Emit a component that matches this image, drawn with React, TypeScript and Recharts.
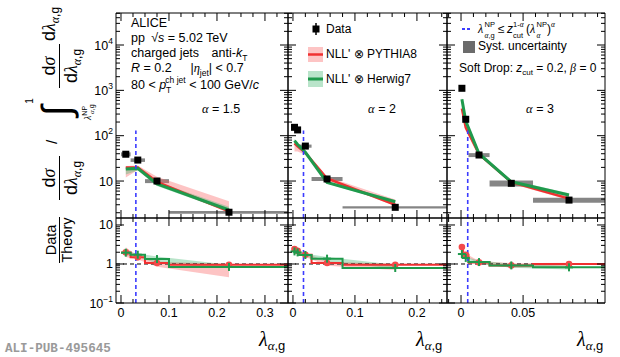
import React from 'react';
import { ComposedChart, XAxis, YAxis, Line, Area, Scatter, ReferenceArea, ReferenceLine } from 'recharts';

// alpha = 1.5
const aBinLo = [0, 0.02, 0.05, 0.1];
const aBinHi = [0.02, 0.05, 0.1, 0.35];
const aX = [0.01, 0.035, 0.075, 0.225];
const aData = [39, 29, 10, 2.05];
const aSys = [0.1, 0.09, 0.1, 0.07];
const aPyth = [20, 20, 9.6, 2.15];
const aPythLo = [12, 17.5, 8.6, 2.0];
const aPythHi = [21.5, 22, 12.5, 3.6];
const aHerw = [18.5, 19, 8.6, 2.3];
const aHerwLo = [14, 17, 7.8, 2.1];
const aHerwHi = [20, 20.5, 9.6, 2.7];
const aRatioPyth = [1.98, 1.48, 1.06, 0.96];
const aRatioPythLo = [1.5, 1.3, 0.85, 0.46];
const aRatioPythHi = [2.7, 1.6, 1.15, 1.0];
const aRatioHerw = [1.95, 1.73, 1.34, 0.84];
const aRatioHerwLo = [1.7, 1.5, 1.05, 0.78];
const aRatioHerwHi = [2.1, 1.85, 1.55, 0.95];
const aNP = 0.031;

// alpha = 2
const bBinLo = [0, 0.005, 0.01, 0.03, 0.08];
const bBinHi = [0.005, 0.01, 0.03, 0.08, 0.25];
const bX = [0.0025, 0.0075, 0.02, 0.055, 0.165];
const bData = [153, 134, 59, 11.1, 2.63];
const bSys = [0.08, 0.08, 0.08, 0.1, 0.06];
const bPyth = [68, 58, 42, 11.4, 3.0];
const bPythLo = [45, 45, 38, 10.5, 2.8];
const bPythHi = [75, 64, 46, 12.5, 3.9];
const bHerw = [78, 64, 43, 9.3, 3.5];
const bHerwLo = [70, 58, 40, 8.8, 3.2];
const bHerwHi = [84, 70, 46, 10, 3.8];
const bRatioPyth = [2.42, 2.19, 1.73, 1.06, 0.96];
const bRatioPythLo = [2.1, 1.9, 1.5, 0.9, 0.7];
const bRatioPythHi = [2.6, 2.3, 1.9, 1.15, 1.0];
const bRatioHerw = [2.1, 1.98, 1.7, 1.37, 0.79];
const bRatioHerwLo = [1.9, 1.8, 1.55, 1.15, 0.75];
const bRatioHerwHi = [2.25, 2.1, 1.85, 1.5, 0.95];
const bNP = 0.017;

// alpha = 3
const cBinLo = [0, 0.0015, 0.006, 0.023, 0.058];
const cBinHi = [0.0015, 0.006, 0.023, 0.058, 0.116];
const cX = [0.0007, 0.0038, 0.0145, 0.0405, 0.087];
const cData = [1110, 230, 37.5, 8.9, 3.8];
const cSys = [0.08, 0.08, 0.1, 0.15, 0.13];
const cPyth = [400, 150, 39, 9.5, 4.1];
const cPythLo = [350, 135, 36, 8.7, 3.8];
const cPythHi = [440, 165, 42, 10.3, 4.5];
const cHerw = [640, 210, 40, 9.6, 4.9];
const cHerwLo = [580, 195, 37, 8.8, 4.4];
const cHerwHi = [700, 225, 43, 10.5, 5.4];
const cRatioPyth = [2.73, 1.73, 1.1, 0.92, 1.0];
const cRatioPythLo = [2.5, 1.6, 1.0, 0.8, 0.85];
const cRatioPythHi = [2.9, 1.85, 1.2, 1.05, 1.08];
const cRatioHerw = [1.8, 1.43, 1.12, 0.92, 0.82];
const cRatioHerwLo = [1.7, 1.35, 1.0, 0.8, 0.72];
const cRatioHerwHi = [1.9, 1.5, 1.22, 1.0, 0.9];
const cNP = 0.0054;

// axes
const aDomain: [number, number] = [-0.0104, 0.348];
const bDomain: [number, number] = [-0.008, 0.2485];
const cDomain: [number, number] = [-0.0113, 0.116];
const aMajors = [0, 0.1, 0.2, 0.3];
const bMajors = [0, 0.1, 0.2];
const cMajors = [0, 0.05];
const TOP_DOMAIN: [number, number] = [1.53, 50800];
const RATIO_DOMAIN: [number, number] = [0.1, 15.1];
const NP_TOP = 130;

const RED = '#f03030';
const GREEN = '#1f9a4c';
const PINK = 'rgba(250, 100, 100, 0.38)';
const MINT = 'rgba(70, 185, 115, 0.38)';
const SYS = '#787878';
const BLUE = '#3c3cff';
const FONT = '"Liberation Sans", Arial, sans-serif';
const G = { fontFamily: '"Liberation Serif", "DejaVu Serif", serif', fontStyle: 'italic' as const };

const PX = [116, 288, 447, 605];
const TOP_Y = 13;
const MID_Y = 218;
const BOT_Y = 303;
const ML = 30, MR = 12, MT = 6, MB = 22;

const linTicks = (start: number, end: number, step: number) => {
  const out: number[] = [];
  for (let i = 0; ; i++) {
    const v = +(start + i * step).toFixed(6);
    if (v > end) break;
    out.push(v);
  }
  return out;
};

const logTicks = (lo: number, hi: number) => {
  const out: number[] = [];
  for (let e = -2; e <= 5; e++) {
    for (let m = 1; m <= 9; m++) {
      const v = +(m * Math.pow(10, e)).toPrecision(6);
      if (v >= lo && v <= hi) out.push(v);
    }
  }
  return out;
};

const isDecade = (v: number) => Math.abs(Math.log10(v) - Math.round(Math.log10(v))) < 1e-6;
const inList = (list: number[]) => (v: number) => list.some((m) => Math.abs(m - v) < 1e-9);

const powLabel = (v: number) => {
  const e = Math.round(Math.log10(v));
  if (e === 0) return '1';
  if (e === 1) return '10';
  return (
    <>
      10<tspan fontSize={8.5} dy={-6}>{e < 0 ? '\u2212' + -e : e}</tspan>
    </>
  );
};

type Side = 'bottom' | 'top' | 'left' | 'right';
const makeTick =
  (side: Side, majorOf: (v: number) => boolean, label?: (v: number) => React.ReactNode) =>
  (props: any) => {
    const { x, y, payload } = props;
    const v = Number(payload.value);
    const major = majorOf(v);
    const len = major ? 8 : 4;
    let c = [x, y, x, y - len];
    if (side === 'top') c = [x, y, x, y + len];
    if (side === 'left') c = [x, y, x + len, y];
    if (side === 'right') c = [x, y, x - len, y];
    let txt: React.ReactNode = null;
    if (major && label) {
      txt =
        side === 'bottom' ? (
          <text x={x} y={y + 14} textAnchor="middle" fontSize={12.5} fontFamily={FONT} fill="#000">
            {label(v)}
          </text>
        ) : (
          <text x={x - 3} y={y + 4.5} textAnchor="end" fontSize={12.5} fontFamily={FONT} fill="#000">
            {label(v)}
          </text>
        );
    }
    return (
      <g>
        <line x1={c[0]} y1={c[1]} x2={c[2]} y2={c[3]} stroke="#000" strokeWidth={1} />
        {txt}
      </g>
    );
  };

type Spec = {
  binLo: number[]; binHi: number[]; x: number[]; data: number[]; sys: number[];
  pyth: number[]; pythLo: number[]; pythHi: number[];
  herw: number[]; herwLo: number[]; herwHi: number[];
  rP: number[]; rPLo: number[]; rPHi: number[];
  rH: number[]; rHLo: number[]; rHHi: number[];
  np: number; domain: [number, number]; ticks: number[]; majors: number[]; xLabel: (v: number) => string;
};

const panels: Spec[] = [
  {
    binLo: aBinLo, binHi: aBinHi, x: aX, data: aData, sys: aSys,
    pyth: aPyth, pythLo: aPythLo, pythHi: aPythHi, herw: aHerw, herwLo: aHerwLo, herwHi: aHerwHi,
    rP: aRatioPyth, rPLo: aRatioPythLo, rPHi: aRatioPythHi, rH: aRatioHerw, rHLo: aRatioHerwLo, rHHi: aRatioHerwHi,
    np: aNP, domain: aDomain, ticks: linTicks(0, 0.34, 0.025), majors: aMajors, xLabel: (v) => String(v),
  },
  {
    binLo: bBinLo, binHi: bBinHi, x: bX, data: bData, sys: bSys,
    pyth: bPyth, pythLo: bPythLo, pythHi: bPythHi, herw: bHerw, herwLo: bHerwLo, herwHi: bHerwHi,
    rP: bRatioPyth, rPLo: bRatioPythLo, rPHi: bRatioPythHi, rH: bRatioHerw, rHLo: bRatioHerwLo, rHHi: bRatioHerwHi,
    np: bNP, domain: bDomain, ticks: linTicks(0, 0.245, 0.02), majors: bMajors, xLabel: (v) => String(v),
  },
  {
    binLo: cBinLo, binHi: cBinHi, x: cX, data: cData, sys: cSys,
    pyth: cPyth, pythLo: cPythLo, pythHi: cPythHi, herw: cHerw, herwLo: cHerwLo, herwHi: cHerwHi,
    rP: cRatioPyth, rPLo: cRatioPythLo, rPHi: cRatioPythHi, rH: cRatioHerw, rHLo: cRatioHerwLo, rHHi: cRatioHerwHi,
    np: cNP, domain: cDomain, ticks: linTicks(-0.01, 0.115, 0.01), majors: cMajors, xLabel: (v) => String(v),
  },
];

const TOP_TICKS = logTicks(TOP_DOMAIN[0], TOP_DOMAIN[1]);
const RATIO_TICKS = logTicks(RATIO_DOMAIN[0], RATIO_DOMAIN[1]);

const square = (props: any) => <rect x={props.cx - 3.5} y={props.cy - 3.5} width={7} height={7} fill="#000" />;
const redDot = (props: any) => <circle cx={props.cx} cy={props.cy} r={3.3} fill="#f34a4a" />;
const greenCross = (props: any) => (
  <g stroke={GREEN} strokeWidth={2}>
    <line x1={props.cx - 4} x2={props.cx + 4} y1={props.cy} y2={props.cy} />
    <line x1={props.cx} x2={props.cx} y1={props.cy - 4} y2={props.cy + 4} />
  </g>
);

// axes get a 1px box (Recharts skips a 0px one), margins are cut by the same 1px
function frameAxes(p: Spec, yDomain: [number, number], yTicks: number[], xLabels: boolean, yLabels: boolean) {
  const xm = inList(p.majors);
  return [
    <XAxis key="xb" xAxisId="b" type="number" dataKey="x" domain={p.domain} allowDataOverflow ticks={p.ticks}
      interval={0} height={1} tickSize={0} tickMargin={0} tickLine={false} axisLine={{ stroke: '#000' }}
      tick={makeTick('bottom', xm, xLabels ? p.xLabel : undefined)} />,
    <XAxis key="xt" xAxisId="t" orientation="top" type="number" dataKey="x" domain={p.domain} allowDataOverflow
      ticks={p.ticks} interval={0} height={1} tickSize={0} tickMargin={0} tickLine={false} axisLine={{ stroke: '#000' }}
      tick={makeTick('top', xm)} />,
    <YAxis key="yl" yAxisId="l" type="number" scale="log" domain={yDomain} allowDataOverflow ticks={yTicks}
      interval={0} width={1} tickSize={0} tickMargin={0} tickLine={false} axisLine={{ stroke: '#000' }}
      tick={makeTick('left', isDecade, yLabels ? powLabel : undefined)} />,
    <YAxis key="yr" yAxisId="r" orientation="right" type="number" scale="log" domain={yDomain} allowDataOverflow
      ticks={yTicks} interval={0} width={1} tickSize={0} tickMargin={0} tickLine={false} axisLine={{ stroke: '#000' }}
      tick={makeTick('right', isDecade)} />,
  ];
}

const chartMargin = { top: MT - 1, right: MR - 1, bottom: MB - 1, left: ML - 1 };

function TopPanel({ p, i }: { p: Spec; i: number }) {
  const w = PX[i + 1] - PX[i];
  const h = MID_Y - TOP_Y;
  const rows = p.x.map((x, k) => ({
    x, data: p.data[k], pyth: p.pyth[k], herw: p.herw[k],
    pb: [p.pythLo[k], p.pythHi[k]], hb: [p.herwLo[k], p.herwHi[k]],
  }));
  const ids = { xAxisId: 'b', yAxisId: 'l' };
  return (
    <div style={{ position: 'absolute', left: PX[i] - ML, top: TOP_Y - MT }}>
      <ComposedChart width={w + ML + MR} height={h + MT + MB} data={rows} margin={chartMargin}>
        {frameAxes(p, TOP_DOMAIN, TOP_TICKS, false, i === 0)}
        {p.binLo.map((lo, k) => (
          <ReferenceArea key={'s' + k} {...ids} x1={lo} x2={p.binHi[k]} y1={p.data[k] * (1 - p.sys[k])}
            y2={p.data[k] * (1 + p.sys[k])} fill={SYS} fillOpacity={0.9} stroke="none" ifOverflow="hidden" />
        ))}
        <Area {...ids} type="linear" dataKey="pb" stroke="none" fill={PINK} fillOpacity={1} isAnimationActive={false} />
        <Area {...ids} type="linear" dataKey="hb" stroke="none" fill={MINT} fillOpacity={1} isAnimationActive={false} />
        <Line {...ids} type="linear" dataKey="pyth" stroke={RED} strokeWidth={2.5} dot={false} activeDot={false} isAnimationActive={false} />
        <Line {...ids} type="linear" dataKey="herw" stroke={GREEN} strokeWidth={3} dot={false} activeDot={false} isAnimationActive={false} />
        <ReferenceLine {...ids} segment={[{ x: p.np, y: TOP_DOMAIN[0] }, { x: p.np, y: NP_TOP }]} stroke={BLUE}
          strokeWidth={1.6} strokeDasharray="4 3" />
        <Scatter {...ids} dataKey="data" shape={square} isAnimationActive={false} />
      </ComposedChart>
    </div>
  );
}

function RatioPanel({ p, i }: { p: Spec; i: number }) {
  const w = PX[i + 1] - PX[i];
  const h = BOT_Y - MID_Y;
  const rows = p.x.map((x, k) => ({
    x, rp: p.rP[k], rh: p.rH[k], rpb: [p.rPLo[k], p.rPHi[k]], rhb: [p.rHLo[k], p.rHHi[k]],
  }));
  const last = p.binLo.length - 1;
  const stepP = p.binLo.map((lo, k) => ({ x: lo, r: p.rP[k] })).concat([{ x: p.binHi[last], r: p.rP[last] }]);
  const stepH = p.binLo.map((lo, k) => ({ x: lo, r: p.rH[k] })).concat([{ x: p.binHi[last], r: p.rH[last] }]);
  const ids = { xAxisId: 'b', yAxisId: 'l' };
  return (
    <div style={{ position: 'absolute', left: PX[i] - ML, top: MID_Y - MT }}>
      <ComposedChart width={w + ML + MR} height={h + MT + MB} data={rows} margin={chartMargin}>
        {frameAxes(p, RATIO_DOMAIN, RATIO_TICKS, true, i === 0)}
        <Area {...ids} type="linear" dataKey="rpb" stroke="none" fill={PINK} fillOpacity={1} isAnimationActive={false} />
        <Area {...ids} type="linear" dataKey="rhb" stroke="none" fill={MINT} fillOpacity={1} isAnimationActive={false} />
        <ReferenceLine {...ids} y={1} stroke="#000" strokeWidth={1} strokeDasharray="4 3" />
        <Line {...ids} data={stepP} type="stepAfter" dataKey="r" stroke={RED} strokeWidth={2} dot={false} activeDot={false} isAnimationActive={false} />
        <Line {...ids} data={stepH} type="stepAfter" dataKey="r" stroke={GREEN} strokeWidth={2} dot={false} activeDot={false} isAnimationActive={false} />
        <ReferenceLine {...ids} x={p.np} stroke={BLUE} strokeWidth={1.6} strokeDasharray="4 3" />
        <Scatter {...ids} dataKey="rp" shape={redDot} isAnimationActive={false} />
        <Scatter {...ids} dataKey="rh" shape={greenCross} isAnimationActive={false} />
      </ComposedChart>
    </div>
  );
}

const Sub = ({ children, d = 3.5, s = 8.5 }: { children: React.ReactNode; d?: number; s?: number }) => (
  <tspan fontSize={s} dy={d}>{children}</tspan>
);

function Overlay() {
  return (
    <svg width={620} height={357} style={{ position: 'absolute', left: 0, top: 0, pointerEvents: 'none' }} fontFamily={FONT}>
      {/* header block */}
      <g fontSize={12.5} fill="#000">
        <text x={131} y={27}>ALICE</text>
        <text x={131} y={42}>pp{'\u2002'}{'\u221a'}<tspan fontStyle="italic">s</tspan> = 5.02 TeV</text>
        <text x={131} y={57}>charged jets{'\u2002\u2002'}anti-<tspan fontStyle="italic">k</tspan><Sub>T</Sub></text>
        <text x={131} y={72}><tspan fontStyle="italic">R</tspan> = 0.2{'\u2003\u2002'}|<tspan {...G}>η</tspan><Sub>jet</Sub><tspan dy={-3.5}>| &lt; 0.7</tspan></text>
        <text x={131} y={89}>80 &lt; <tspan fontStyle="italic">p</tspan><Sub d={3.5}>T</Sub><tspan fontSize={8.5} dx={-5} dy={-10}>ch jet</tspan><tspan dy={6.5}> &lt; 100 GeV/</tspan><tspan fontStyle="italic">c</tspan></text>
      </g>
      <g fontSize={12.5}>
        <text x={221} y={113} textAnchor="middle"><tspan {...G}>α</tspan> = 1.5</text>
        <text x={382} y={113} textAnchor="middle"><tspan {...G}>α</tspan> = 2</text>
        <text x={540} y={113} textAnchor="middle"><tspan {...G}>α</tspan> = 3</text>
      </g>
      {/* legend */}
      <g fontSize={12}>
        <line x1={316} x2={316} y1={23} y2={35} stroke="#000" strokeWidth={1.5} />
        <rect x={312.5} y={25.5} width={7} height={7} fill="#000" />
        <text x={326} y={33}>Data</text>
        <rect x={308} y={47} width={15} height={15} fill={PINK} />
        <line x1={308} x2={323} y1={54.5} y2={54.5} stroke={RED} strokeWidth={2.5} />
        <text x={326} y={57.5}>NLL' ⊗ PYTHIA8</text>
        <rect x={308} y={71} width={15} height={16} fill={MINT} />
        <line x1={308} x2={323} y1={79} y2={79} stroke={GREEN} strokeWidth={3} />
        <text x={326} y={82.5}>NLL' ⊗ Herwig7</text>
        <line x1={462} x2={472} y1={29} y2={29} stroke={BLUE} strokeWidth={1.8} strokeDasharray="3 2" />
        {/* λ^NP_α,g ≤ z_cut^(1-α) (λ_α^NP)^α, pieces placed one by one */}
        <text x={478} y={33} {...G}>λ</text>
        <text x={484.5} y={27} fontSize={7.5}>NP</text>
        <text x={484.5} y={37.5} fontSize={7.5}><tspan {...G}>α</tspan>,g</text>
        <text x={498} y={33}>≤</text>
        <text x={507} y={33} fontStyle="italic">z</text>
        <text x={513} y={27} fontSize={7.5}>1-<tspan {...G}>α</tspan></text>
        <text x={513} y={37.5} fontSize={7.5}>cut</text>
        <text x={526} y={33}>(</text>
        <text x={530} y={33} {...G}>λ</text>
        <text x={536.5} y={27} fontSize={7.5}>NP</text>
        <text x={536.5} y={37.5} fontSize={7.5} {...G}>α</text>
        <text x={547} y={33}>)</text>
        <text x={551} y={27} fontSize={7.5} {...G}>α</text>
        <rect x={463} y={41} width={12} height={12} fill="#6b6b6b" />
        <text x={478} y={49.5}>Syst. uncertainty</text>
        <text x={459} y={71.5}>
          Soft Drop: <tspan fontStyle="italic">z</tspan><Sub s={8}>cut</Sub><tspan dy={-3.5}> = 0.2, </tspan>
          <tspan {...G}>β</tspan> = 0
        </text>
      </g>
      {/* y titles */}
      <g transform="rotate(-90)" fontSize={18} fill="#000">
        <text x={-178} y={55} textAnchor="middle">d<tspan {...G}>σ</tspan></text>
        <line x1={-200} x2={-156} y1={59.5} y2={59.5} stroke="#000" strokeWidth={1} />
        <text x={-178} y={77} textAnchor="middle">d<tspan {...G}>λ</tspan><tspan fontSize={12} dy={4}><tspan {...G}>α</tspan>,g</tspan></text>
        <text x={-142} y={57} textAnchor="middle" fontSize={15}>/</text>
        <text x={-111} y={70} textAnchor="middle" fontSize={40}>∫</text>
        <text x={-101} y={33} textAnchor="middle" fontSize={10}>1</text>
        <text x={-120} y={91} fontSize={10}>
          <tspan {...G}>λ</tspan>
          <tspan fontSize={7} dy={-4}>NP</tspan>
          <tspan fontSize={7} dx={-8} dy={7}><tspan {...G}>α</tspan>,g</tspan>
        </text>
        <text x={-66} y={55} textAnchor="middle">d<tspan {...G}>σ</tspan></text>
        <line x1={-88} x2={-44} y1={59.5} y2={59.5} stroke="#000" strokeWidth={1} />
        <text x={-66} y={77} textAnchor="middle">d<tspan {...G}>λ</tspan><tspan fontSize={12} dy={4}><tspan {...G}>α</tspan>,g</tspan></text>
        <text x={-24} y={55} textAnchor="middle">d<tspan {...G}>λ</tspan><tspan fontSize={12} dy={4}><tspan {...G}>α</tspan>,g</tspan></text>
        <text x={-240} y={56} textAnchor="middle" fontSize={14.5}>Data</text>
        <line x1={-263} x2={-217} y1={59.5} y2={59.5} stroke="#000" strokeWidth={1} />
        <text x={-240} y={72} textAnchor="middle" fontSize={14.5}>Theory</text>
      </g>
      {/* x titles */}
      {[259, 416, 577].map((x) => (
        <text key={x} x={x} y={346} fontSize={20}>
          <tspan {...G}>λ</tspan>
          <tspan fontSize={13} dy={4}><tspan {...G}>α</tspan>,g</tspan>
        </text>
      ))}
      <text x={5} y={352} fontFamily='"Liberation Mono", "DejaVu Sans Mono", monospace' fontWeight="bold" fontSize={12.6} fill="#9a9a9a">
        ALI-PUB-495645
      </text>
    </svg>
  );
}

export default function App() {
  return (
    <div style={{ position: 'absolute', left: 0, top: 0, width: 620, height: 357, background: '#fff', fontFamily: FONT }}>
      {panels.map((p, i) => (
        <TopPanel key={'t' + i} p={p} i={i} />
      ))}
      {panels.map((p, i) => (
        <RatioPanel key={'r' + i} p={p} i={i} />
      ))}
      <Overlay />
    </div>
  );
}
